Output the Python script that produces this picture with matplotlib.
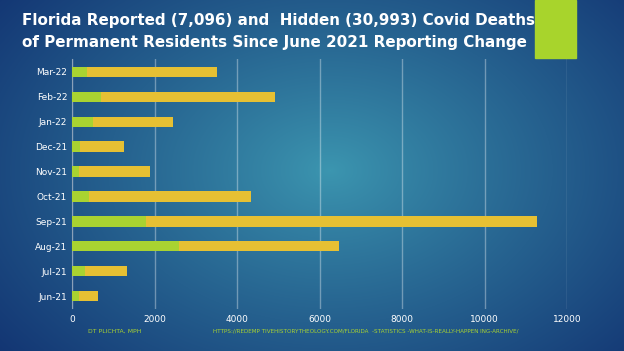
import matplotlib
matplotlib.use("Agg")
import matplotlib.pyplot as plt
import numpy as np

# data
months = ['Jun-21', 'Jul-21', 'Aug-21', 'Sep-21', 'Oct-21', 'Nov-21', 'Dec-21', 'Jan-22', 'Feb-22', 'Mar-22']
reported = [160, 320, 2600, 1790, 400, 160, 200, 500, 700, 355]
hidden = [480, 1005, 3880, 9490, 3940, 1720, 1060, 1955, 4230, 3150]

green = '#a9d331'
yellow = '#e6c033'

fig = plt.figure(figsize=(6.24, 3.51), dpi=100)

# background radial gradient
bg = fig.add_axes([0, 0, 1, 1])
H, W = 351, 624
yy, xx = np.mgrid[0:H, 0:W]
d = np.sqrt(((xx - 330) / 480.0) ** 2 + ((yy - 170) / 330.0) ** 2)
d = np.clip(d, 0, 1) ** 0.9
c_in = np.array([60, 150, 176]) / 255.0
c_out = np.array([14, 42, 108]) / 255.0
img = c_in[None, None, :] * (1 - d[..., None]) + c_out[None, None, :] * d[..., None]
bg.imshow(img, extent=[0, 1, 0, 1], aspect='auto', origin='upper')
bg.axis('off')

# green block top right
bg.add_patch(plt.Rectangle((535 / W, 1 - 58 / H), 41 / W, 58 / H, color='#a8d42c', transform=bg.transAxes, zorder=5))

ax = fig.add_axes([72 / W, 1 - 308.5 / H, (567 - 72) / W, 249 / H])
ax.patch.set_alpha(0)
y = np.arange(len(months))
ax.barh(y, reported, height=0.42, color=green, zorder=3)
ax.barh(y, hidden, left=reported, height=0.42, color=yellow, zorder=3)
ax.set_xlim(0, 12000)
ax.set_ylim(-0.5, len(months) - 0.5)
ax.set_yticks(y)
ax.set_yticklabels(months)
ax.set_xticks(range(0, 12001, 2000))
ax.tick_params(colors='white', labelsize=6.5, length=0)
ax.tick_params(axis='x', pad=5)
ax.grid(axis='x', color='white', alpha=0.35, lw=1, zorder=1)
for s in ['top', 'right', 'bottom']:
    ax.spines[s].set_visible(False)
ax.spines['left'].set_color('#8aa0b8')

fig.text(22 / W, 1 - 20 / H, 'Florida Reported (7,096) and  Hidden (30,993) Covid Deaths',
         color='white', fontsize=10.9, fontweight='bold', va='center', ha='left')
fig.text(22 / W, 1 - 43 / H, 'of Permanent Residents Since June 2021 Reporting Change',
         color='white', fontsize=10.9, fontweight='bold', va='center', ha='left')

fig.text(88 / W, 1 - 331 / H, 'DT PLICHTA, MPH', color='#a9d331', fontsize=4.4, va='center')
fig.text(213 / W, 1 - 331 / H,
         'HTTPS://REDEMP TIVEHISTORYTHEOLOGY.COM/FLORIDA  -STATISTICS -WHAT-IS-REALLY-HAPPEN ING-ARCHIVE/',
         color='#a9d331', fontsize=4.1, va='center')

fig.savefig('out.png', dpi=100)
